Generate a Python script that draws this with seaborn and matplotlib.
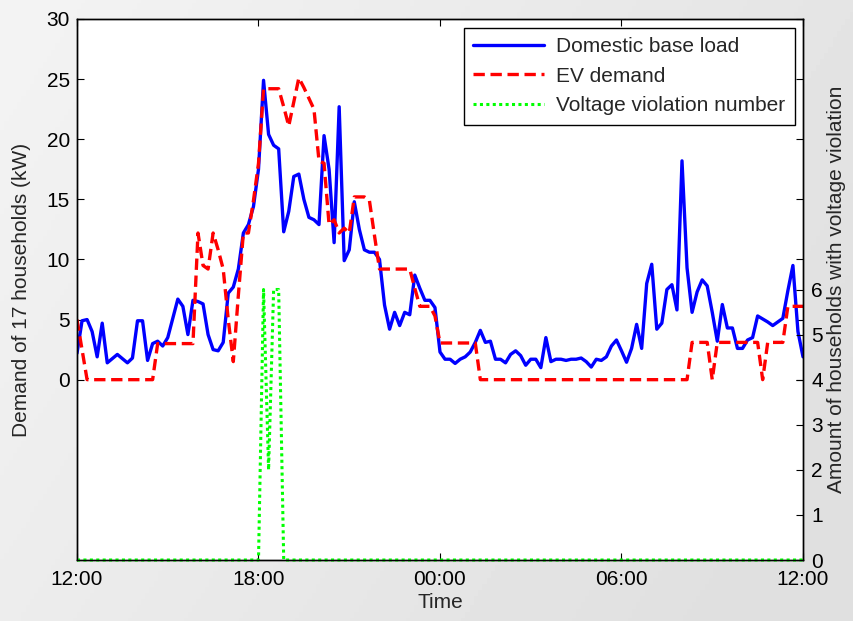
import numpy as np
import pandas as pd
import matplotlib
matplotlib.use("Agg")
import matplotlib.pyplot as plt
import seaborn as sns

# Samples every 10 minutes, from 12:00 to 12:00 the next day (145 points)
step_hours = 10 / 60
time_tick_hours = [0, 6, 12, 18, 24]
time_tick_labels = ["12:00", "18:00", "00:00", "06:00", "12:00"]

# Domestic base load of 17 households (kW)
base_load = [
    2.2, 4.9, 5.0, 4.0, 1.9, 4.7, 1.4, 1.75, 2.1, 1.75, 1.4, 1.8,
    4.9, 4.9, 1.6, 3.0, 3.2, 2.8, 3.5, 5.1, 6.7, 6.1, 3.75, 6.6,
    6.5, 6.3, 3.75, 2.5, 2.4, 3.1, 7.2, 7.7, 9.2, 12.2, 12.9, 14.4,
    17.5, 24.9, 20.4, 19.5, 19.2, 12.3, 14.0, 16.9, 17.1, 15.0, 13.5, 13.3,
    12.9, 20.3, 17.5, 11.4, 22.7, 9.9, 10.8, 14.8, 12.5, 10.8, 10.6, 10.6,
    10.0, 6.2, 4.2, 5.6, 4.5, 5.6, 5.4, 8.7, 7.6, 6.6, 6.6, 6.0,
    2.3, 1.7, 1.7, 1.35, 1.7, 1.9, 2.3, 3.1, 4.1, 3.1, 3.2, 1.7,
    1.7, 1.4, 2.1, 2.4, 2.0, 1.2, 1.7, 1.7, 1.0, 3.5, 1.5, 1.7,
    1.7, 1.6, 1.7, 1.7, 1.8, 1.5, 1.05, 1.7, 1.6, 1.9, 2.8, 3.3,
    2.4, 1.45, 2.6, 4.6, 2.6, 8.0, 9.6, 4.2, 4.7, 7.5, 7.9, 5.8,
    18.2, 9.3, 5.6, 7.3, 8.3, 7.8, 5.6, 3.2, 6.25, 4.3, 4.3, 2.6,
    2.6, 3.3, 3.5, 5.3, 5.05, 4.8, 4.5, 4.8, 5.1, 7.4, 9.5, 4.0,
    1.9,
]

# EV charging demand (kW)
ev_demand = [
    5.0, 2.5, 0, 0, 0, 0, 0, 0, 0, 0, 0, 0,
    0, 0, 0, 0, 3.0, 3.0, 3.0, 3.0, 3.0, 3.0, 3.0, 3.0,
    12.2, 9.5, 9.2, 12.2, 10.8, 9.2, 5.0, 1.5, 7.0, 12.2, 12.2, 14.9,
    18.0, 24.2, 24.2, 24.2, 24.2, 22.7, 21.1, 23.1, 25.1, 24.3, 23.4, 22.5,
    18.2, 18.0, 12.9, 13.3, 12.2, 12.6, 12.2, 15.2, 15.2, 15.2, 14.9, 12.0,
    9.2, 9.2, 9.2, 9.2, 9.2, 9.2, 9.2, 7.6, 6.1, 6.1, 6.1, 5.3,
    3.05, 3.05, 3.05, 3.05, 3.05, 3.05, 3.05, 3.05, 0, 0, 0, 0,
    0, 0, 0, 0, 0, 0, 0, 0, 0, 0, 0, 0,
    0, 0, 0, 0, 0, 0, 0, 0, 0, 0, 0, 0,
    0, 0, 0, 0, 0, 0, 0, 0, 0, 0, 0, 0,
    0, 0, 3.1, 3.1, 3.1, 3.1, 0, 3.1, 3.1, 3.1, 3.1, 3.1,
    3.1, 3.1, 3.1, 3.1, 0, 3.1, 3.1, 3.1, 3.1, 6.1, 6.1, 6.1,
    6.1,
]

# Number of households with a voltage violation
violations = [
    0, 0, 0, 0, 0, 0, 0, 0, 0, 0, 0, 0,
    0, 0, 0, 0, 0, 0, 0, 0, 0, 0, 0, 0,
    0, 0, 0, 0, 0, 0, 0, 0, 0, 0, 0, 0,
    0, 6, 2, 6, 6, 0, 0, 0, 0, 0, 0, 0,
    0, 0, 0, 0, 0, 0, 0, 0, 0, 0, 0, 0,
    0, 0, 0, 0, 0, 0, 0, 0, 0, 0, 0, 0,
    0, 0, 0, 0, 0, 0, 0, 0, 0, 0, 0, 0,
    0, 0, 0, 0, 0, 0, 0, 0, 0, 0, 0, 0,
    0, 0, 0, 0, 0, 0, 0, 0, 0, 0, 0, 0,
    0, 0, 0, 0, 0, 0, 0, 0, 0, 0, 0, 0,
    0, 0, 0, 0, 0, 0, 0, 0, 0, 0, 0, 0,
    0, 0, 0, 0, 0, 0, 0, 0, 0, 0, 0, 0,
    0,
]

df = pd.DataFrame({
    "hours": np.arange(len(base_load)) * step_hours,
    "base": base_load,
    "ev": ev_demand,
    "viol": violations,
})

sns.set_theme(style="white")
plt.rcParams["font.family"] = ["Liberation Sans", "DejaVu Sans"]
fs = 15

fig = plt.figure(figsize=(8.54, 6.21), dpi=100)

# light grey figure background, brighter towards the upper left
bg = fig.add_axes([0, 0, 1, 1], zorder=-10)
gx, gy = np.meshgrid(np.linspace(0, 1, 200), np.linspace(0, 1, 200))
shade = 0.955 - 0.08 * np.clip(0.75 * gx + 0.35 * gy, 0, 1)
bg.imshow(shade, cmap="gray", vmin=0, vmax=1, aspect="auto",
          extent=[0, 1, 0, 1], origin="upper")
bg.set_axis_off()

ax = fig.add_axes([77 / 854, 1 - 560 / 621, 726 / 854, 541 / 621])
ax.set_facecolor("white")
ax2 = ax.twinx()

lw = 2.4
sns.lineplot(data=df, x="hours", y="base", ax=ax, color="#0000ff",
             linewidth=lw, legend=False)
sns.lineplot(data=df, x="hours", y="ev", ax=ax, color="#ff0000",
             linewidth=lw, legend=False)
ax.lines[-1].set_dashes([3.4, 1.7])
sns.lineplot(data=df, x="hours", y="viol", ax=ax2, color="#00ff00",
             linewidth=2.2, legend=False)
ax2.lines[-1].set_dashes([1, 1.1])
ax2.lines[-1].set_clip_on(False)

ax.set_xlim(0, 24)
ax.set_ylim(-15, 30)
ax.set_yticks([0, 5, 10, 15, 20, 25, 30])
ax.set_xticks(time_tick_hours)
ax.set_xticklabels(time_tick_labels)
ax2.set_ylim(0, 12)
ax2.set_yticks([0, 1, 2, 3, 4, 5, 6])

ax.set_xlabel("Time", fontsize=fs, labelpad=3)
ax.set_ylabel("Demand of 17 households (kW)", fontsize=fs, labelpad=11)
ax2.set_ylabel("Amount of households with voltage violation", fontsize=fs,
               labelpad=3)

for a in (ax, ax2):
    for s in a.spines.values():
        s.set_color("black")
        s.set_linewidth(1.0)
ax.tick_params(axis="both", direction="in", length=5, width=0.8,
               top=True, right=True, left=True, bottom=True,
               labelsize=fs, colors="black")
ax.tick_params(axis="x", pad=7)
ax.tick_params(axis="y", pad=5)
ax2.tick_params(axis="y", direction="in", length=5, width=0.8,
                labelsize=fs, colors="black", pad=6)

handles = ax.lines[:2] + ax2.lines[:1]
labels = ["Domestic base load", "EV demand", "Voltage violation number"]
leg = ax2.legend(handles, labels, loc="upper right", fontsize=fs,
                 frameon=True, fancybox=False, edgecolor="black",
                 framealpha=1, borderpad=0.45, handlelength=3.4,
                 handletextpad=0.6, labelspacing=0.5, borderaxespad=0,
                 bbox_to_anchor=(1 - 8 / 726, 1 - 9 / 541))
leg.get_frame().set_linewidth(1.0)

fig.savefig("out.png", dpi=100)
